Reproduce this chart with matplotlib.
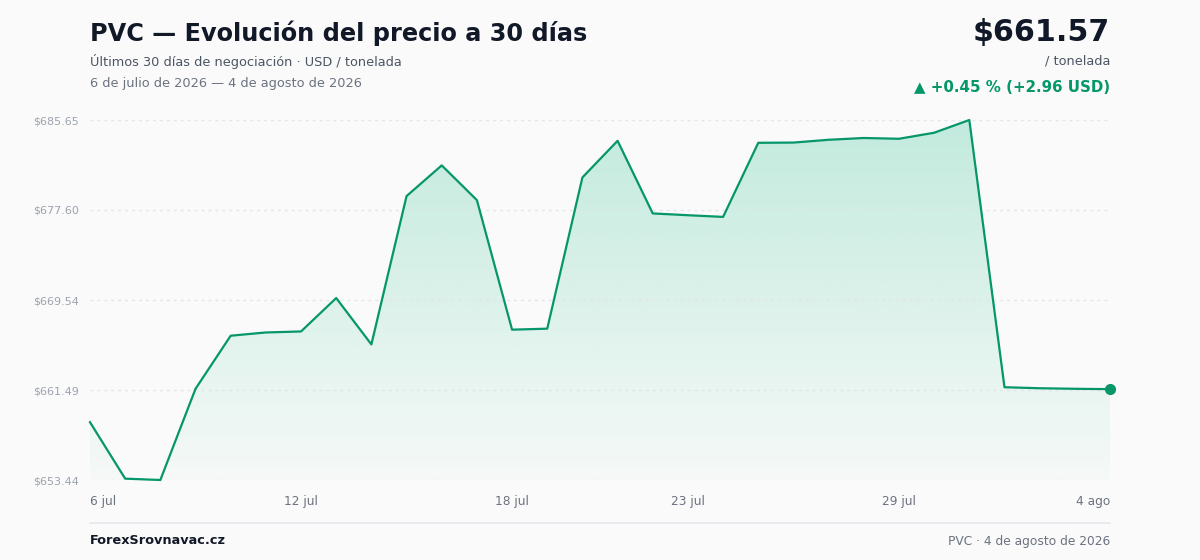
import numpy as np
import pandas as pd
import matplotlib
matplotlib.use("Agg")
import matplotlib.pyplot as plt
from matplotlib.colors import to_rgb

plt.rcParams["font.family"] = ["DejaVu Sans"]

# precio diario PVC (USD / tonelada), 6 jul - 4 ago 2026
dates = pd.date_range("2026-07-06", "2026-08-04", freq="D")
prices = [658.61, 653.56, 653.44, 661.60, 666.35, 666.64, 666.73, 669.72, 665.57, 678.84,
          681.59, 678.48, 666.89, 666.98, 680.51, 683.79, 677.29, 677.13, 676.98, 683.61,
          683.63, 683.88, 684.04, 683.97, 684.51, 685.65, 661.74, 661.65, 661.60, 661.57]
ytick_vals = [653.44, 661.49, 669.54, 677.60, 685.65]
xtick_dates = ["2026-07-06", "2026-07-12", "2026-07-18", "2026-07-23", "2026-07-29", "2026-08-04"]
xtick_labels = ["6 jul", "12 jul", "18 jul", "23 jul", "29 jul", "4 ago"]

title = "PVC — Evolución del precio a 30 días"
subtitle = "Últimos 30 días de negociación · USD / tonelada"
date_range_txt = "6 de julio de 2026 — 4 de agosto de 2026"
last_price = "$661.57"
change_txt = "▲ +0.45 % (+2.96 USD)"

green = "#059669"
fill_green = "#10b981"
bg = "#fafafa"

fig = plt.figure(figsize=(12, 5.6), dpi=100, facecolor=bg)
ax = fig.add_axes([0.075, 1 - 480 / 560, 0.85, 360 / 560])
ax.set_facecolor(bg)

x = np.arange(len(prices))
y = np.array(prices)
ymin, ymax = min(ytick_vals), max(ytick_vals)
ax.set_xlim(0, len(prices) - 1)
ax.set_ylim(ymin, ymax)

# gradient area under the line
rgb = to_rgb(fill_green)
grad = np.zeros((256, 1, 4))
grad[:, 0, 0], grad[:, 0, 1], grad[:, 0, 2] = rgb
grad[:, 0, 3] = np.linspace(0.24, 0.02, 256)
poly = ax.fill_between(x, y, ymin, color="none", lw=0)
img = ax.imshow(grad, aspect="auto", extent=[0, len(prices) - 1, ymin, ymax],
                origin="upper", zorder=1, interpolation="bilinear")
img.set_clip_path(poly.get_paths()[0], transform=ax.transData)

for v in ytick_vals:
    ax.axhline(v, color="#e2e5ea", lw=1, ls=(0, (2, 3)), zorder=2)

ax.plot(x, y, color=green, lw=1.6, zorder=3, clip_on=False)
ax.plot(x[-1], y[-1], "o", color=green, ms=7, zorder=4, clip_on=False)

for s in ax.spines.values():
    s.set_visible(False)
ax.set_yticks(ytick_vals)
ax.set_yticklabels(["$%.2f" % v for v in ytick_vals])
ax.tick_params(axis="y", length=0, pad=8, labelsize=8, labelcolor="#9ca3af")
xt = [list(dates.strftime("%Y-%m-%d")).index(d) for d in xtick_dates]
ax.set_xticks(xt)
ax.set_xticklabels(xtick_labels)
ax.tick_params(axis="x", length=0, pad=11, labelsize=8.7, labelcolor="#6b7280")
labs = ax.get_xticklabels()
labs[0].set_ha("left")
labs[-1].set_ha("right")

# header
fig.text(90 / 1200, 1 - 33 / 560, title, fontsize=17.25, fontweight="bold",
         color="#111827", va="center", ha="left")
fig.text(90 / 1200, 1 - 61 / 560, subtitle, fontsize=9.25, color="#4b5563", va="center")
fig.text(90 / 1200, 1 - 83 / 560, date_range_txt, fontsize=9.25, color="#6b7280", va="center")
fig.text(1110 / 1200, 1 - 32 / 560, last_price, fontsize=21.7, fontweight="bold",
         color="#111827", va="center", ha="right")
fig.text(1110 / 1200, 1 - 61 / 560, "/ tonelada", fontsize=9.25, color="#4b5563",
         va="center", ha="right")
fig.text(1110 / 1200, 1 - 87 / 560, change_txt, fontsize=10.8, fontweight="bold",
         color=green, va="center", ha="right")

# footer
fig.add_artist(plt.Line2D([90 / 1200, 1110 / 1200], [1 - 523 / 560, 1 - 523 / 560],
                          color="#e5e7eb", lw=1.2))
fig.text(90 / 1200, 1 - 541 / 560, "ForexSrovnavac.cz", fontsize=9.3, fontweight="bold",
         color="#111827", va="center")
fig.text(1110 / 1200, 1 - 541 / 560, "PVC · 4 de agosto de 2026", fontsize=8.85,
         color="#6b7280", va="center", ha="right")

fig.savefig("out.png", dpi=100, facecolor=bg)
